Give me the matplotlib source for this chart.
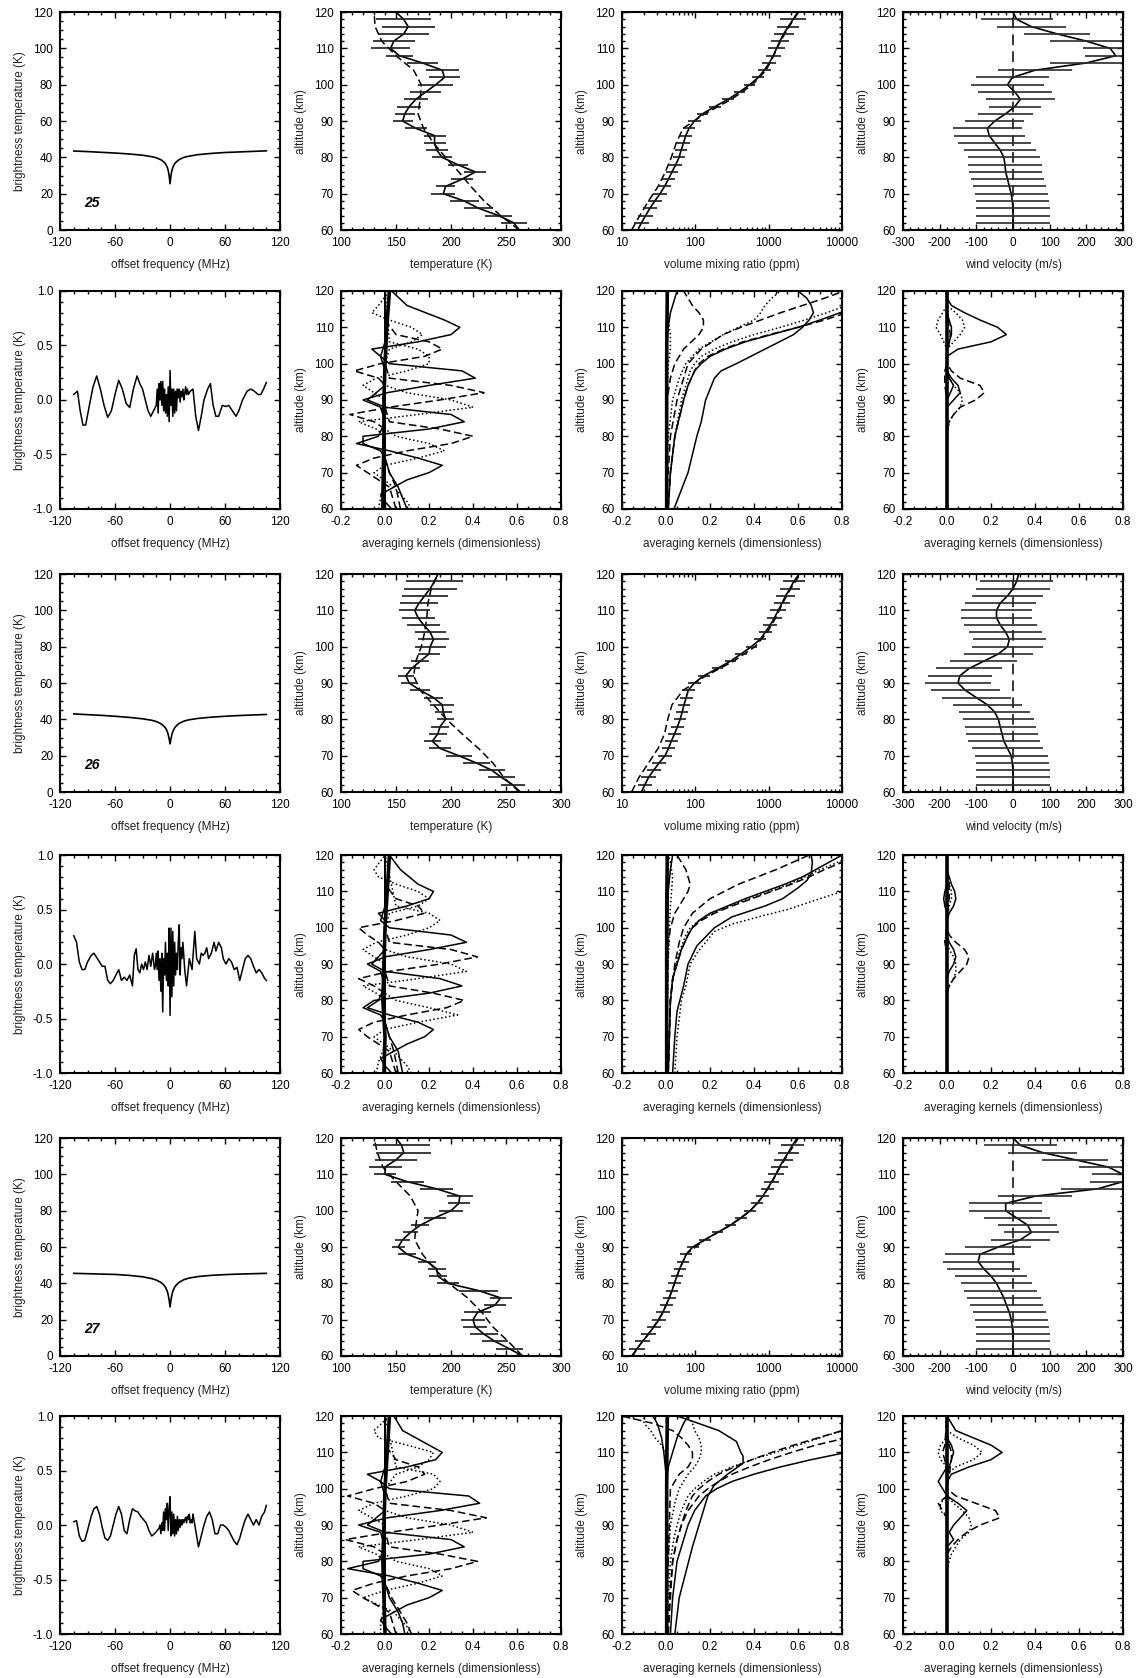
import numpy as np
import matplotlib
matplotlib.use('Agg')
import matplotlib.pyplot as plt
from matplotlib.ticker import MultipleLocator, FormatStrFormatter, LogLocator, NullFormatter

plt.rcParams['font.family'] = ['Liberation Sans', 'DejaVu Sans']
plt.rcParams['axes.unicode_minus'] = False

# ---- data -------------------------------------------------------------
alt = [60, 62, 64, 66, 68, 70, 72, 74, 76, 78, 80, 82, 84, 86, 88, 90,
       92, 94, 96, 98, 100, 102, 104, 106, 108, 110, 112, 114, 116, 118, 120]
ap_alt = [60, 64, 68, 72, 76, 80, 84, 88, 92, 96, 100, 104, 108, 112, 116, 120]

# measured line spectra (offset MHz, brightness K)
spec_f = [-105, -90, -75, -60, -45, -30, -20, -15, -10, -7, -5, -3, -2, -1, 0,
          1, 2, 3, 5, 7, 10, 15, 20, 30, 45, 60, 75, 90, 105]
spec25 = [43.5, 43.2, 42.8, 42.4, 41.9, 41.2, 40.4, 39.8, 38.7, 37.6, 36.5, 34.5, 32.8, 30.0, 25.5,
          30.0, 32.8, 34.5, 36.5, 37.6, 38.8, 40.0, 40.6, 41.5, 42.2, 42.7, 43.0, 43.3, 43.6]
spec26 = [43.0, 42.6, 42.2, 41.7, 41.1, 40.3, 39.5, 38.8, 37.6, 36.4, 35.3, 33.3, 31.6, 29.3, 26.5,
          29.3, 31.6, 33.3, 35.3, 36.5, 37.8, 39.0, 39.7, 40.5, 41.2, 41.7, 42.1, 42.4, 42.7]
spec27 = [45.5, 45.3, 45.1, 44.9, 44.4, 43.6, 42.6, 41.8, 40.5, 39.2, 37.9, 35.6, 33.6, 30.8, 27.0,
          30.8, 33.6, 35.6, 37.9, 39.2, 40.6, 42.0, 42.8, 43.7, 44.4, 44.8, 45.1, 45.3, 45.5]

# fit residuals (offset MHz, K)
res25 = [(-105, 0.05), (-101, 0.08), (-98, -0.1), (-95, -0.23), (-92, -0.23), (-88, -0.05),
         (-84, 0.12), (-80, 0.22), (-76, 0.1), (-72, -0.05), (-68, -0.16), (-64, -0.1),
         (-60, 0.05), (-56, 0.18), (-52, 0.1), (-48, -0.03), (-44, -0.07), (-40, 0.1),
         (-36, 0.22), (-33, 0.15), (-30, 0.1), (-27, 0.0), (-24, -0.1), (-21, -0.15),
         (-18, -0.1), (-15, -0.05), (-14, 0.1), (-13, -0.12), (-12, 0.15), (-11, 0.0),
         (-10, 0.17), (-9, -0.05), (-8, 0.17), (-7, -0.1), (-6, 0.1), (-5, -0.12), (-4, 0.05),
         (-3, -0.15), (-2, 0.12), (-1, -0.2), (0, 0.27), (1, -0.05), (2, 0.1), (3, -0.15),
         (4, 0.1), (5, -0.12), (6, 0.08), (7, -0.1), (8, 0.1), (9, 0.02), (10, 0.1), (11, -0.02),
         (12, 0.08), (13, 0.03), (14, 0.1), (15, 0.0), (16, 0.06), (17, 0.12), (18, 0.05),
         (19, 0.1), (20, 0.05), (22, 0.08), (25, 0.1), (28, -0.15), (31, -0.28), (34, -0.15),
         (37, 0.0), (41, 0.1), (44, 0.15), (47, -0.05), (50, -0.15), (53, -0.15), (57, -0.05),
         (61, -0.06), (64, -0.05), (68, -0.1), (72, -0.15), (75, -0.1), (79, 0.0), (84, 0.08),
         (88, 0.1), (92, 0.08), (96, 0.05), (99, 0.05), (102, 0.1), (105, 0.16)]
res26 = [(-105, 0.26), (-102, 0.2), (-99, 0.02), (-96, -0.05), (-93, -0.05), (-90, 0.02),
         (-86, 0.08), (-83, 0.1), (-80, 0.06), (-77, 0.02), (-74, -0.02), (-71, -0.02),
         (-68, -0.15), (-65, -0.18), (-62, -0.15), (-59, -0.1), (-56, -0.05), (-53, -0.15),
         (-50, -0.12), (-47, -0.15), (-44, -0.1), (-41, -0.2), (-39, 0.08), (-37, 0.14),
         (-35, -0.05), (-33, -0.08), (-31, 0.0), (-29, -0.05), (-27, 0.02), (-25, -0.05),
         (-23, 0.08), (-21, -0.02), (-19, 0.1), (-17, -0.05), (-16, -0.02), (-15, 0.1),
         (-14, -0.05), (-13, 0.12), (-12, -0.15), (-11, 0.05), (-10, -0.25), (-9, 0.1),
         (-8, -0.44), (-7, 0.05), (-6, -0.1), (-5, 0.2), (-4, -0.15), (-3, 0.1), (-2, -0.2),
         (-1, 0.33), (0, -0.47), (1, 0.33), (2, -0.3), (3, 0.3), (4, -0.2), (5, 0.2), (6, -0.1),
         (7, 0.1), (8, -0.05), (9, 0.2), (10, 0.36), (11, -0.1), (12, 0.15), (13, 0.05),
         (14, 0.2), (16, -0.05), (18, -0.2), (21, 0.05), (24, -0.05), (27, 0.3), (29, 0.05),
         (32, 0.0), (34, 0.1), (36, 0.08), (38, 0.1), (40, 0.15), (42, 0.05), (45, 0.1),
         (48, 0.2), (50, 0.12), (53, 0.2), (56, 0.15), (58, 0.05), (61, 0.0), (64, 0.05),
         (67, 0.02), (70, -0.05), (73, -0.03), (76, -0.15), (79, -0.05), (82, 0.05), (85, 0.08),
         (88, 0.05), (91, -0.02), (94, -0.08), (97, -0.05), (100, -0.08), (103, -0.13),
         (105, -0.15)]
res27 = [(-105, 0.03), (-102, 0.04), (-99, -0.1), (-96, -0.15), (-93, -0.14), (-90, -0.05),
         (-86, 0.08), (-83, 0.15), (-80, 0.17), (-77, 0.1), (-74, -0.02), (-71, -0.12),
         (-68, -0.14), (-65, -0.1), (-62, 0.0), (-59, 0.1), (-56, 0.17), (-53, 0.1),
         (-50, -0.05), (-47, -0.08), (-44, 0.05), (-41, 0.15), (-38, 0.13), (-35, 0.12),
         (-32, 0.08), (-29, 0.05), (-26, 0.02), (-23, -0.05), (-20, -0.1), (-17, -0.08),
         (-14, -0.05), (-12, -0.03), (-11, 0.0), (-10, -0.08), (-9, 0.02), (-8, -0.05),
         (-7, 0.12), (-6, -0.05), (-5, 0.15), (-4, 0.05), (-3, 0.2), (-2, -0.05), (-1, 0.15),
         (0, 0.26), (1, -0.1), (2, 0.12), (3, -0.08), (4, 0.1), (5, -0.1), (6, 0.05), (7, -0.08),
         (8, 0.08), (9, -0.05), (10, 0.05), (11, -0.02), (12, 0.05), (13, 0.0), (14, 0.05),
         (15, 0.02), (16, 0.05), (17, 0.07), (18, 0.02), (19, 0.08), (20, 0.05), (21, 0.1),
         (22, 0.02), (23, 0.05), (24, 0.02), (25, 0.1), (26, 0.05), (29, -0.1), (31, -0.2),
         (34, -0.1), (37, 0.0), (40, 0.08), (43, 0.12), (46, 0.05), (49, -0.08), (52, -0.08),
         (55, 0.0), (58, 0.0), (61, -0.02), (64, -0.05), (67, -0.1), (70, -0.15), (73, -0.18),
         (76, -0.12), (79, -0.03), (82, 0.05), (85, 0.1), (88, 0.05), (91, 0.0), (94, 0.05),
         (97, 0.0), (100, 0.08), (103, 0.12), (105, 0.18)]

# temperature profiles (K), retrieved / errors at 62..118 km / a priori
temp25 = [262, 257, 243, 225, 212, 193, 195, 210, 222, 206, 192, 187, 185, 185, 168, 156,
          158, 162, 168, 177, 186, 194, 192, 174, 153, 145, 148, 157, 161, 157, 150]
temp_err25 = [12, 12, 13, 13, 11, 9, 10, 10, 9, 9, 10, 10, 10, 10, 9, 9, 11, 11, 14, 16,
              14, 15, 14, 12, 18, 19, 23, 24, 25]
temp_ap25 = [262, 245, 230, 218, 207, 195, 184, 175, 170, 172, 173, 166, 150, 137, 131, 130]
temp26 = [263, 256, 246, 237, 223, 207, 190, 183, 188, 190, 195, 193, 192, 184, 172, 162,
          159, 164, 172, 180, 181, 184, 181, 175, 170, 167, 171, 176, 181, 185, 188]
temp_err26 = [11, 12, 12, 12, 12, 10, 8, 8, 8, 8, 8, 11, 9, 9, 7.5, 7.5, 7.5, 8, 10, 14,
              14, 14, 15, 15, 14, 17, 21, 24, 26]
temp_ap26 = [262, 248, 238, 225, 210, 196, 184, 172, 166, 168, 173, 176, 178, 179, 182, 188]
temp27 = [265, 253, 240, 230, 222, 220, 224, 240, 245, 225, 197, 188, 187, 178, 160, 152,
          156, 163, 172, 185, 200, 207, 208, 187, 160, 140, 140, 150, 157, 155, 150]
temp_err27 = [12, 12, 13, 11, 11, 12, 10, 10, 18, 10, 8, 8, 8, 8, 6, 7, 7, 8, 10, 11,
              10, 12, 15, 15, 10, 15, 19, 25, 26]
temp_ap27 = [265, 252, 238, 228, 215, 198, 185, 174, 167, 168, 170, 163, 150, 138, 133, 130]

# CO volume mixing ratio (ppm), error factors at 62..118 km, a priori
vmr25 = [16.4, 18.4, 21, 24, 28, 33, 38, 43, 48, 54, 60, 64, 69, 74, 82, 97, 125, 185, 280,
         400, 550, 720, 870, 1020, 1150, 1280, 1420, 1600, 1850, 2150, 2500]
vmr_err25 = [1.27, 1.27, 1.26, 1.25, 1.25, 1.24, 1.23, 1.22, 1.22, 1.22, 1.22, 1.22, 1.22,
             1.22, 1.22, 1.2, 1.2, 1.2, 1.2, 1.2, 1.2, 1.22, 1.24, 1.27, 1.3, 1.33, 1.37,
             1.42, 1.5]
vmr_ap25 = [13.5, 17.5, 23, 31, 39, 47, 55, 68, 135, 310, 600, 920, 1170, 1450, 1900, 2550]
vmr26 = [18.4, 20.5, 23, 27, 32, 38.6, 43, 47, 52, 57, 62, 66, 70, 75, 80, 97, 130, 200, 300,
         420, 580, 760, 900, 1050, 1200, 1350, 1520, 1700, 1950, 2200, 2600]
vmr_err26 = [1.26, 1.25, 1.25, 1.24, 1.24, 1.23, 1.22, 1.22, 1.22, 1.21, 1.21, 1.21, 1.22,
             1.22, 1.22, 1.2, 1.2, 1.2, 1.2, 1.2, 1.21, 1.22, 1.24, 1.26, 1.28, 1.3, 1.34,
             1.38, 1.42]
vmr_ap26 = [13.5, 17, 23, 31, 38, 42, 48, 68, 140, 330, 650, 960, 1250, 1550, 2000, 2700]
vmr27 = [14, 16, 19, 23, 27, 32, 36, 40, 44, 48, 52, 56, 61, 68, 75, 92, 135, 200, 300,
         420, 560, 700, 830, 960, 1100, 1250, 1400, 1600, 1850, 2100, 2450]
vmr_err27 = [1.28, 1.27, 1.26, 1.25, 1.25, 1.24, 1.23, 1.22, 1.22, 1.22, 1.22, 1.21, 1.21,
             1.21, 1.21, 1.2, 1.2, 1.2, 1.2, 1.2, 1.21, 1.22, 1.24, 1.26, 1.28, 1.31, 1.34,
             1.38, 1.42]
vmr_ap27 = [13.5, 19, 27, 36, 44, 52, 61, 75, 135, 300, 560, 840, 1120, 1430, 1900, 2550]

# wind (m/s) and errors at 62..118 km
wind25 = [0, 0, 0, 0, -2, -5, -10, -15, -20, -22, -25, -35, -50, -65, -70, -50, -20, 5, 20,
          5, -15, -2, 60, 200, 280, 265, 200, 120, 50, 10, 0]
wind_err25 = [100, 100, 100, 100, 100, 100, 100, 100, 100, 98, 98, 100, 97, 95, 80, 75, 70,
              95, 100, 100, 100, 100, 100, 85, 75, 100, 90, 95, 98]
wind26 = [0, 0, 0, 0, -2, -5, -15, -25, -30, -35, -40, -50, -70, -100, -130, -150, -145,
          -120, -80, -40, -15, -10, -20, -35, -45, -45, -35, -15, 0, 10, 15]
wind_err26 = [100, 100, 100, 100, 100, 98, 98, 97, 97, 97, 97, 95, 95, 95, 90, 88, 90, 92,
              95, 98, 100, 100, 100, 98, 97, 97, 98, 100, 100]
wind27 = [0, 0, 0, 0, -2, -5, -10, -18, -25, -35, -45, -60, -80, -95, -90, -40, 20, 50, 40,
          10, -20, -20, 60, 230, 300, 300, 260, 170, 80, 20, 0]
wind_err27 = [100, 100, 100, 100, 100, 100, 100, 100, 100, 98, 98, 100, 97, 95, 90, 80, 75,
              80, 90, 100, 100, 100, 100, 90, 85, 80, 90, 95, 100]

# temperature averaging kernels: altitudes shared by all three retrievals
akt_alts = [[60, 98, 102, 104, 106, 108, 110, 112, 116, 120],
            [60, 84, 88, 90, 92, 94, 96, 98, 100, 102, 106, 120],
            [60, 74, 76, 78, 80, 82, 84, 86, 88, 90, 94, 120],
            [60, 62, 64, 66, 68, 70, 72, 74, 76, 78, 80, 84, 120],
            [60, 94, 96, 98, 100, 102, 104, 106, 108, 112, 120],
            [60, 82, 84, 86, 88, 90, 92, 94, 96, 100, 120],
            [60, 66, 70, 72, 74, 76, 78, 80, 82, 84, 88, 120],
            [60, 100, 104, 106, 108, 110, 112, 114, 116, 120],
            [60, 90, 94, 96, 98, 100, 102, 104, 106, 120],
            [60, 80, 82, 84, 86, 88, 90, 92, 94, 120],
            [60, 62, 66, 70, 72, 74, 76, 78, 80, 82, 120]]
akt25 = [[0.0, 0.0, -0.02, -0.06, 0.15, 0.30, 0.34, 0.27, 0.10, 0.03],
         [0.0, 0.0, -0.02, -0.10, 0.01, 0.20, 0.41, 0.35, 0.02, -0.02, 0.0, 0.0],
         [0.0, 0.0, -0.02, -0.10, -0.10, 0.20, 0.36, 0.30, 0.0, -0.08, 0.0, 0.0],
         [0.03, 0.0, -0.02, 0.04, 0.10, 0.20, 0.26, 0.15, 0.02, -0.13, -0.03, 0.0, 0.0],
         [0.0, 0.0, -0.03, -0.14, -0.02, 0.18, 0.26, 0.20, 0.05, 0.0, 0.0],
         [0.0, 0.0, -0.05, -0.16, 0.02, 0.25, 0.45, 0.30, 0.02, 0.0, 0.0],
         [0.05, 0.02, -0.08, -0.13, -0.05, 0.10, 0.30, 0.40, 0.25, 0.02, 0.0, 0.0],
         [0.0, 0.0, 0.02, 0.12, 0.17, 0.12, 0.02, -0.06, -0.03, 0.02],
         [0.0, 0.0, -0.10, -0.04, 0.10, 0.20, 0.20, 0.15, 0.02, 0.0],
         [0.0, 0.0, -0.04, -0.12, 0.15, 0.40, 0.30, 0.10, 0.0, 0.0],
         [0.12, 0.10, 0.04, -0.05, 0.0, 0.15, 0.27, 0.20, 0.05, 0.0, 0.0]]
akt26 = [[0.0, 0.0, 0.0, -0.03, 0.10, 0.20, 0.22, 0.15, 0.07, 0.02],
         [0.0, 0.0, -0.02, -0.08, 0.0, 0.20, 0.37, 0.30, 0.02, -0.02, 0.0, 0.0],
         [0.0, 0.0, -0.02, -0.10, -0.05, 0.20, 0.35, 0.25, 0.0, -0.06, 0.0, 0.0],
         [0.03, 0.0, -0.02, 0.04, 0.10, 0.18, 0.22, 0.15, 0.02, -0.08, -0.03, 0.0, 0.0],
         [0.0, 0.0, -0.03, -0.08, -0.12, 0.05, 0.18, 0.15, 0.05, 0.0, 0.0],
         [0.0, 0.0, -0.05, -0.12, 0.02, 0.25, 0.42, 0.30, 0.02, 0.0, 0.0],
         [0.05, 0.02, -0.08, -0.12, -0.05, 0.10, 0.28, 0.36, 0.22, 0.02, 0.0, 0.0],
         [0.0, 0.0, 0.02, 0.15, 0.20, 0.15, 0.05, -0.03, -0.05, 0.0],
         [0.0, 0.0, -0.10, -0.04, 0.10, 0.20, 0.25, 0.20, 0.05, 0.0],
         [0.0, 0.0, -0.04, -0.10, 0.15, 0.37, 0.30, 0.10, 0.0, 0.0],
         [0.12, 0.10, 0.04, -0.05, 0.0, 0.15, 0.33, 0.20, 0.05, 0.0, 0.0]]
akt27 = [[0.0, 0.0, -0.02, -0.08, 0.10, 0.23, 0.26, 0.20, 0.08, 0.04],
         [0.0, 0.0, -0.02, -0.12, 0.01, 0.25, 0.43, 0.38, 0.02, -0.02, 0.0, 0.0],
         [0.0, 0.0, -0.02, -0.10, -0.10, 0.20, 0.36, 0.30, 0.0, -0.08, 0.0, 0.0],
         [0.03, 0.0, -0.02, 0.04, 0.10, 0.20, 0.26, 0.15, 0.02, -0.17, -0.03, 0.0, 0.0],
         [0.0, 0.0, -0.05, -0.17, -0.05, 0.10, 0.18, 0.15, 0.05, 0.0, 0.0],
         [0.0, 0.0, -0.05, -0.18, 0.02, 0.25, 0.46, 0.30, 0.02, 0.0, 0.0],
         [0.05, 0.02, -0.10, -0.15, -0.05, 0.10, 0.30, 0.42, 0.25, 0.02, 0.0, 0.0],
         [0.0, 0.0, 0.05, 0.15, 0.20, 0.22, 0.10, -0.03, -0.05, 0.02],
         [0.0, 0.0, -0.12, -0.05, 0.10, 0.22, 0.25, 0.22, 0.05, 0.0],
         [0.0, 0.0, -0.04, -0.12, 0.15, 0.40, 0.30, 0.10, 0.0, 0.0],
         [0.12, 0.10, 0.04, -0.10, 0.0, 0.15, 0.26, 0.20, 0.05, 0.0, 0.0]]
akt_low_alt = [60, 63, 66, 70, 74]
akt_low25 = [[0.10, 0.08, 0.06, 0.02, 0.0], [0.07, 0.06, 0.05, 0.02, 0.0], [-0.03, -0.02, -0.01, 0.0, 0.0]]
akt_low26 = [[0.08, 0.07, 0.06, 0.02, 0.0], [0.06, 0.05, 0.04, 0.02, 0.0], [-0.04, -0.03, -0.01, 0.0, 0.0]]
akt_low27 = [[0.09, 0.08, 0.06, 0.02, 0.0], [0.12, 0.10, 0.07, 0.03, 0.0], [-0.02, -0.02, -0.01, 0.0, 0.0]]
ak_center_alt = [60, 70, 80, 90, 100, 110, 120]
akt_center25 = [-0.01, -0.008, -0.005, -0.005, 0.0, 0.008, 0.02]
akt_center26 = [-0.005, 0.0, -0.01, -0.005, 0.0, 0.01, 0.02]
akt_center27 = [0.0, -0.005, -0.01, -0.005, 0.0, 0.01, 0.02]

# CO averaging kernels
akv_alts25 = [[60, 70, 80, 84, 90, 96, 98, 100, 104, 108, 110, 112, 114, 116, 118, 120],
              [60, 70, 80, 90, 94, 98, 100, 102, 104, 106, 108, 110, 112, 114, 116],
              [60, 70, 80, 90, 94, 98, 100, 102, 104, 106, 108, 110, 112, 114, 116, 118],
              [60, 70, 80, 90, 94, 98, 100, 102, 104, 106, 108, 110, 112, 114, 116],
              [60, 70, 80, 90, 96, 100, 104, 108, 110, 112, 114, 116, 118, 120],
              [60, 80, 90, 96, 100, 104, 108, 110, 112, 114, 116, 118, 120],
              [60, 100, 106, 110, 114, 118, 120],
              [60, 90, 96, 100, 104, 108, 110, 112, 114, 116, 118, 120],
              [60, 90, 100, 104, 108, 112, 116, 120]]
akv25 = [[0.036, 0.10, 0.14, 0.16, 0.18, 0.22, 0.25, 0.32, 0.45, 0.58, 0.62, 0.65, 0.67, 0.66, 0.64, 0.60],
         [0.01, 0.02, 0.04, 0.08, 0.10, 0.13, 0.15, 0.19, 0.26, 0.35, 0.47, 0.60, 0.72, 0.82, 0.90],
         [0.01, 0.02, 0.04, 0.07, 0.09, 0.11, 0.13, 0.16, 0.22, 0.30, 0.40, 0.52, 0.63, 0.73, 0.82, 0.90],
         [0.01, 0.02, 0.04, 0.08, 0.10, 0.13, 0.16, 0.20, 0.27, 0.36, 0.48, 0.60, 0.70, 0.79, 0.88],
         [0.0, 0.01, 0.02, 0.05, 0.08, 0.10, 0.16, 0.26, 0.34, 0.43, 0.52, 0.62, 0.72, 0.81],
         [0.0, 0.01, 0.03, 0.06, 0.09, 0.15, 0.26, 0.33, 0.40, 0.43, 0.45, 0.48, 0.52],
         [0.0, 0.0, 0.005, 0.01, 0.02, 0.04, 0.05],
         [0.0, 0.005, 0.02, 0.04, 0.08, 0.15, 0.17, 0.17, 0.15, 0.12, 0.10, 0.08],
         [0.0, 0.005, 0.01, 0.02, 0.02, 0.01, 0.01, 0.01]]
akv_alts26 = [[60, 70, 77, 84, 87, 90, 95, 100, 103, 106, 108, 111, 113, 115, 118, 120],
              [60, 80, 90, 96, 100, 104, 108, 112, 116, 120],
              [60, 70, 80, 84, 90, 93, 96, 99, 101, 103, 105, 107, 110],
              [60, 70, 80, 86, 90, 94, 98, 100, 102, 104, 106, 108, 110, 112, 114, 116, 118, 120],
              [60, 70, 80, 86, 90, 94, 98, 100, 102, 104, 106, 108, 110, 112, 114, 116, 118, 120],
              [60, 70, 80, 86, 90, 94, 98, 100, 102, 104, 106, 108, 110, 112, 114, 116, 118, 120],
              [60, 110, 116, 120],
              [60, 95, 100, 104, 108, 110, 112, 114, 116, 118, 120],
              [60, 90, 100, 106, 110, 114, 118, 120]]
akv26 = [[0.03, 0.04, 0.05, 0.08, 0.09, 0.10, 0.14, 0.22, 0.30, 0.45, 0.53, 0.60, 0.64, 0.66, 0.665, 0.66],
         [0.01, 0.02, 0.04, 0.06, 0.08, 0.12, 0.20, 0.33, 0.50, 0.65],
         [0.04, 0.05, 0.07, 0.09, 0.11, 0.14, 0.18, 0.22, 0.30, 0.42, 0.55, 0.65, 0.80],
         [0.01, 0.015, 0.02, 0.03, 0.05, 0.07, 0.10, 0.12, 0.15, 0.20, 0.28, 0.36, 0.45, 0.54, 0.62, 0.68, 0.74, 0.80],
         [0.01, 0.015, 0.02, 0.03, 0.05, 0.07, 0.10, 0.12, 0.16, 0.22, 0.30, 0.39, 0.48, 0.57, 0.65, 0.72, 0.80, 0.88],
         [0.01, 0.015, 0.02, 0.03, 0.045, 0.065, 0.09, 0.11, 0.15, 0.21, 0.29, 0.38, 0.47, 0.56, 0.63, 0.70, 0.78, 0.85],
         [0.0, 0.01, 0.02, 0.03],
         [0.0, 0.01, 0.02, 0.04, 0.08, 0.10, 0.11, 0.10, 0.09, 0.07, 0.05],
         [0.0, 0.01, 0.015, 0.02, 0.025, 0.03, 0.02, 0.01]]
akv_alts27 = [[60, 70, 77, 84, 88, 96, 98, 101, 104, 107, 109, 110, 113, 116, 119, 120],
              [60, 70, 80, 86, 90, 94, 98, 100, 102, 104, 106, 108, 110, 112, 114],
              [60, 70, 80, 86, 90, 94, 98, 100, 102, 104, 106, 108, 110, 112, 114, 116],
              [60, 70, 80, 86, 90, 94, 98, 100, 102, 104, 106, 108, 110],
              [60, 70, 80, 86, 90, 94, 98, 100, 102, 104, 106, 108, 110, 112, 114, 116],
              [60, 80, 90, 96, 100, 104, 106, 108, 110, 112, 114, 116, 118, 120],
              [60, 100, 106, 110, 114, 118, 120],
              [60, 100, 104, 106, 108, 110, 112, 114, 116, 118, 120],
              [60, 100, 106, 110, 112, 114, 116, 118, 120],
              [60, 104, 110, 114, 118, 120]]
akv27 = [[0.04, 0.06, 0.09, 0.12, 0.14, 0.18, 0.19, 0.22, 0.28, 0.35, 0.35, 0.34, 0.32, 0.24, 0.10, 0.05],
         [0.01, 0.015, 0.03, 0.05, 0.07, 0.10, 0.15, 0.19, 0.24, 0.30, 0.38, 0.47, 0.57, 0.68, 0.82],
         [0.005, 0.01, 0.02, 0.035, 0.05, 0.07, 0.10, 0.13, 0.17, 0.22, 0.30, 0.39, 0.50, 0.60, 0.70, 0.80],
         [0.02, 0.03, 0.05, 0.08, 0.10, 0.13, 0.18, 0.23, 0.30, 0.40, 0.52, 0.66, 0.82],
         [0.01, 0.02, 0.03, 0.05, 0.07, 0.09, 0.12, 0.15, 0.19, 0.24, 0.31, 0.39, 0.48, 0.58, 0.69, 0.80],
         [0.0, 0.01, 0.02, 0.04, 0.06, 0.10, 0.13, 0.15, 0.16, 0.16, 0.15, 0.13, 0.12, 0.10],
         [0.0, 0.0, 0.01, 0.03, 0.05, 0.08, 0.10],
         [0.0, 0.02, 0.06, 0.10, 0.12, 0.12, 0.10, 0.07, 0.03, -0.06, -0.20],
         [0.0, 0.0, 0.0, 0.0, -0.02, -0.05, -0.07, -0.10, -0.10],
         [0.0, 0.0, -0.01, -0.02, -0.04, -0.06]]
akv_center = [0.003, 0.003, 0.003, 0.003, 0.003, 0.004, 0.006]

# wind averaging kernels
akw_alts25 = [[60, 100, 102, 104, 106, 108, 110, 112, 114, 116, 118, 120],
              [60, 82, 84, 86, 88, 90, 92, 94, 96, 98, 100, 120],
              [60, 80, 84, 86, 88, 90, 92, 94, 96, 98, 120],
              [60, 88, 90, 92, 94, 96, 98, 120],
              [60, 102, 104, 106, 108, 110, 112, 114, 120],
              [60, 104, 106, 108, 110, 112, 114, 116, 120],
              [60, 104, 106, 108, 110, 112, 114, 120],
              [60, 90, 94, 98, 100, 120],
              [60, 104, 108, 110, 112, 116, 120],
              [60, 86, 90, 94, 96, 98, 120]]
akw25 = [[0, 0, 0.0, 0.05, 0.20, 0.27, 0.23, 0.15, 0.08, 0.02, 0.0, 0],
         [0, 0, 0.01, 0.03, 0.06, 0.13, 0.17, 0.15, 0.06, 0.02, 0.0, 0],
         [0, 0, 0.01, 0.03, 0.06, 0.07, 0.06, 0.03, 0.01, 0, 0],
         [0, 0, 0.03, 0.06, 0.05, 0.02, 0, 0],
         [0, 0, 0.005, 0.01, 0.015, 0.01, 0.005, 0, 0],
         [0, 0, 0.03, 0.06, 0.08, 0.07, 0.04, 0.0, 0],
         [0, 0, 0.01, 0.02, 0.02, 0.01, 0, 0],
         [0, 0, -0.01, -0.01, 0, 0],
         [0, 0, -0.03, -0.05, -0.04, 0, 0],
         [0, 0, 0.0, 0.03, 0.01, 0, 0]]
akw_alts26 = [[60, 102, 104, 106, 108, 110, 112, 114, 116, 120],
              [60, 82, 84, 86, 88, 90, 92, 94, 96, 98, 100, 120],
              [60, 82, 84, 86, 88, 90, 92, 94, 96, 120],
              [60, 86, 88, 90, 92, 94, 96, 98, 120],
              [60, 104, 108, 112, 116, 120],
              [60, 102, 106, 108, 110, 112, 116, 120],
              [60, 104, 106, 108, 110, 112, 120],
              [60, 94, 96, 100, 120],
              [60, 92, 96, 100, 120]]
akw26 = [[0, 0, 0.01, 0.03, 0.04, 0.035, 0.02, 0.01, 0, 0],
         [0, 0, 0.01, 0.03, 0.06, 0.09, 0.10, 0.08, 0.04, 0.01, 0, 0],
         [0, 0, 0.01, 0.03, 0.04, 0.04, 0.03, 0.01, 0, 0],
         [0, 0, 0.01, 0.03, 0.04, 0.03, 0.01, 0, 0],
         [0, 0, 0.01, 0.01, 0.0, 0],
         [0, 0, 0.01, 0.02, 0.02, 0.01, 0, 0],
         [0, 0, -0.01, -0.015, -0.01, 0, 0],
         [0, 0, -0.01, 0, 0],
         [0, 0, -0.01, 0.0, 0]]
akw_alts27 = [[60, 102, 104, 106, 108, 110, 112, 114, 116, 120],
              [60, 82, 84, 86, 88, 90, 92, 94, 96, 98, 100, 120],
              [60, 78, 82, 86, 88, 90, 92, 94, 96, 98, 120],
              [60, 84, 86, 88, 90, 92, 94, 96, 98, 120],
              [60, 100, 104, 108, 110, 112, 116, 120],
              [60, 104, 106, 108, 110, 112, 114, 116, 120],
              [60, 98, 100, 102, 104, 106, 120],
              [60, 104, 108, 110, 112, 120],
              [60, 106, 108, 110, 112, 114, 120],
              [60, 104, 106, 108, 110, 112, 114, 120],
              [60, 92, 94, 96, 98, 120],
              [60, 92, 94, 96, 98, 120]]
akw27 = [[0, 0, 0.02, 0.10, 0.20, 0.25, 0.20, 0.12, 0.04, 0],
         [0, 0, 0.02, 0.05, 0.09, 0.15, 0.24, 0.22, 0.13, 0.04, 0, 0],
         [0, 0, 0.02, 0.06, 0.10, 0.11, 0.10, 0.07, 0.03, 0.0, 0],
         [0, 0, 0.03, 0.01, 0.03, 0.06, 0.09, 0.05, 0.0, 0],
         [0, 0, 0.01, 0.02, 0.02, 0.01, 0, 0],
         [0, 0, 0.04, 0.12, 0.16, 0.12, 0.05, 0, 0],
         [0, 0, -0.02, -0.04, -0.02, 0, 0],
         [0, 0, -0.01, -0.02, -0.01, 0],
         [0, 0, -0.03, -0.04, -0.03, 0, 0],
         [0, 0, 0.01, 0.02, 0.03, 0.02, 0, 0],
         [0, 0, -0.02, -0.04, 0, 0],
         [0, 0, -0.03, -0.03, 0, 0]]
akw_center = [0.0, 0.0, 0.0, 0.0, 0.0, 0.0, 0.0]

sets = ['25', '26', '27']

# ---- drawing ------------------------------------------------------------
LS = {'-': '-', '--': (0, (5, 2.5)), ':': (0, (1, 1.6))}
CYC = ['-', '--', ':']


def frame(ax, xlim, ylim, xmaj, xmin, ymaj, ymin, xlabel, ylabel):
    ax.set_xlim(*xlim)
    ax.set_ylim(*ylim)
    if xmaj is not None:
        ax.xaxis.set_major_locator(MultipleLocator(xmaj))
        ax.xaxis.set_minor_locator(MultipleLocator(xmin))
    ax.yaxis.set_major_locator(MultipleLocator(ymaj))
    ax.yaxis.set_minor_locator(MultipleLocator(ymin))
    ax.tick_params(which='both', direction='in', top=True, right=True,
                   labelsize=8.5, width=1.0, colors='k')
    ax.tick_params(which='major', length=4.5, pad=5)
    ax.tick_params(which='minor', length=2.5)
    for s in ax.spines.values():
        s.set_linewidth(1.5)
    ax.set_xlabel(xlabel, fontsize=8.5, labelpad=7, color='#222222')
    ax.set_ylabel(ylabel, fontsize=8.5, labelpad=5, color='#222222')


def spectrum(ax, f, tb, tag):
    ax.plot(f, tb, color='k', lw=1.2)
    ax.text(-85, 15, tag, fontsize=10, fontweight='bold', style='italic',
            ha='center', va='center')
    frame(ax, (-120, 120), (0, 120), 60, 15, 20, 5,
          'offset frequency (MHz)', 'brightness temperature (K)')


def residual(ax, pts):
    f, tb = zip(*pts)
    ax.plot(f, tb, color='k', lw=1.1)
    frame(ax, (-120, 120), (-1.0, 1.0), 60, 15, 0.5, 0.1,
          'offset frequency (MHz)', 'brightness temperature (K)')
    ax.yaxis.set_major_formatter(FormatStrFormatter('%.1f'))


def temp_panel(ax, t, err, ap):
    t = np.array(t, float)
    a = np.array(alt)
    ax.plot(ap, ap_alt, color='k', lw=1.1, ls=LS['--'])
    ax.plot(t, a, color='k', lw=1.2)
    ax.hlines(a[1:-1], t[1:-1] - np.array(err), t[1:-1] + np.array(err),
              colors='#1a1a1a', lw=1.2)
    frame(ax, (100, 300), (60, 120), 50, 10, 10, 2,
          'temperature (K)', 'altitude (km)')


def vmr_panel(ax, v, err, ap):
    v = np.array(v, float)
    a = np.array(alt)
    ax.plot(ap, ap_alt, color='k', lw=1.1, ls=LS['--'])
    ax.plot(v, a, color='k', lw=1.2)
    ax.hlines(a[1:-1], v[1:-1] / np.array(err), v[1:-1] * np.array(err),
              colors='#1a1a1a', lw=1.2)
    ax.set_xscale('log')
    frame(ax, (10, 10000), (60, 120), None, None, 10, 2,
          'volume mixing ratio (ppm)', 'altitude (km)')
    ax.xaxis.set_major_locator(LogLocator(base=10, numticks=10))
    ax.xaxis.set_minor_locator(LogLocator(base=10, subs=np.arange(2, 10), numticks=20))
    ax.xaxis.set_minor_formatter(NullFormatter())
    ax.set_xticks([10, 100, 1000, 10000])
    ax.set_xticklabels(['10', '100', '1000', '10000'])


def wind_panel(ax, w, err):
    w = np.array(w, float)
    a = np.array(alt)
    ax.plot([0, 0], [60, 120], color='k', lw=1.1, ls=(0, (7, 4)))
    ax.plot(w, a, color='k', lw=1.2)
    ax.hlines(a[1:-1], w[1:-1] - np.array(err), w[1:-1] + np.array(err),
              colors='#2a2a2a', lw=1.2)
    frame(ax, (-300, 300), (60, 120), 100, 20, 10, 2,
          'wind velocity (m/s)', 'altitude (km)')


def ak_panel(ax, alts_list, vals_list, styles, center):
    for a, v, s in zip(alts_list, vals_list, styles):
        ax.plot(v, a, color='k', lw=1.1, ls=LS[s])
    ax.plot(center, ak_center_alt, color='k', lw=2.6)
    frame(ax, (-0.2, 0.8), (60, 120), 0.2, 0.05, 10, 2,
          'averaging kernels (dimensionless)', 'altitude (km)')
    ax.xaxis.set_major_formatter(FormatStrFormatter('%.1f'))


fig = plt.figure(figsize=(11.39, 16.78), dpi=100)
lefts = [0.0527, 0.2994, 0.5461, 0.7928]
bottoms = [0.8629, 0.6967, 0.5280, 0.3605, 0.1919, 0.0262]
w_ax, h_ax = 0.1932, 0.1299

spec = {'25': spec25, '26': spec26, '27': spec27}
res = {'25': res25, '26': res26, '27': res27}
temps = {'25': (temp25, temp_err25, temp_ap25), '26': (temp26, temp_err26, temp_ap26),
         '27': (temp27, temp_err27, temp_ap27)}
vmrs = {'25': (vmr25, vmr_err25, vmr_ap25), '26': (vmr26, vmr_err26, vmr_ap26),
        '27': (vmr27, vmr_err27, vmr_ap27)}
winds = {'25': (wind25, wind_err25), '26': (wind26, wind_err26), '27': (wind27, wind_err27)}
akt = {'25': (akt25, akt_low25, akt_center25), '26': (akt26, akt_low26, akt_center26),
       '27': (akt27, akt_low27, akt_center27)}
akv = {'25': (akv_alts25, akv25), '26': (akv_alts26, akv26), '27': (akv_alts27, akv27)}
akw = {'25': (akw_alts25, akw25), '26': (akw_alts26, akw26), '27': (akw_alts27, akw27)}

t_styles = ['-'] * 4 + ['--'] * 3 + [':'] * 4

for i, key in enumerate(sets):
    r1 = 2 * i
    r2 = 2 * i + 1
    axs = [fig.add_axes([l, bottoms[r1], w_ax, h_ax]) for l in lefts]
    spectrum(axs[0], spec_f, spec[key], key)
    temp_panel(axs[1], *temps[key])
    vmr_panel(axs[2], *vmrs[key])
    wind_panel(axs[3], *winds[key])

    axk = [fig.add_axes([l, bottoms[r2], w_ax, h_ax]) for l in lefts]
    residual(axk[0], res[key])
    kt, klow, kc = akt[key]
    ak_panel(axk[1], akt_alts + [akt_low_alt] * 3, kt + klow,
             t_styles + CYC, kc)
    va, vv = akv[key]
    ak_panel(axk[2], va, vv, [CYC[j % 3] for j in range(len(vv))], akv_center)
    wa, wv = akw[key]
    ak_panel(axk[3], wa, wv, [CYC[j % 3] for j in range(len(wv))], akw_center)

fig.savefig('out.png', dpi=100)
